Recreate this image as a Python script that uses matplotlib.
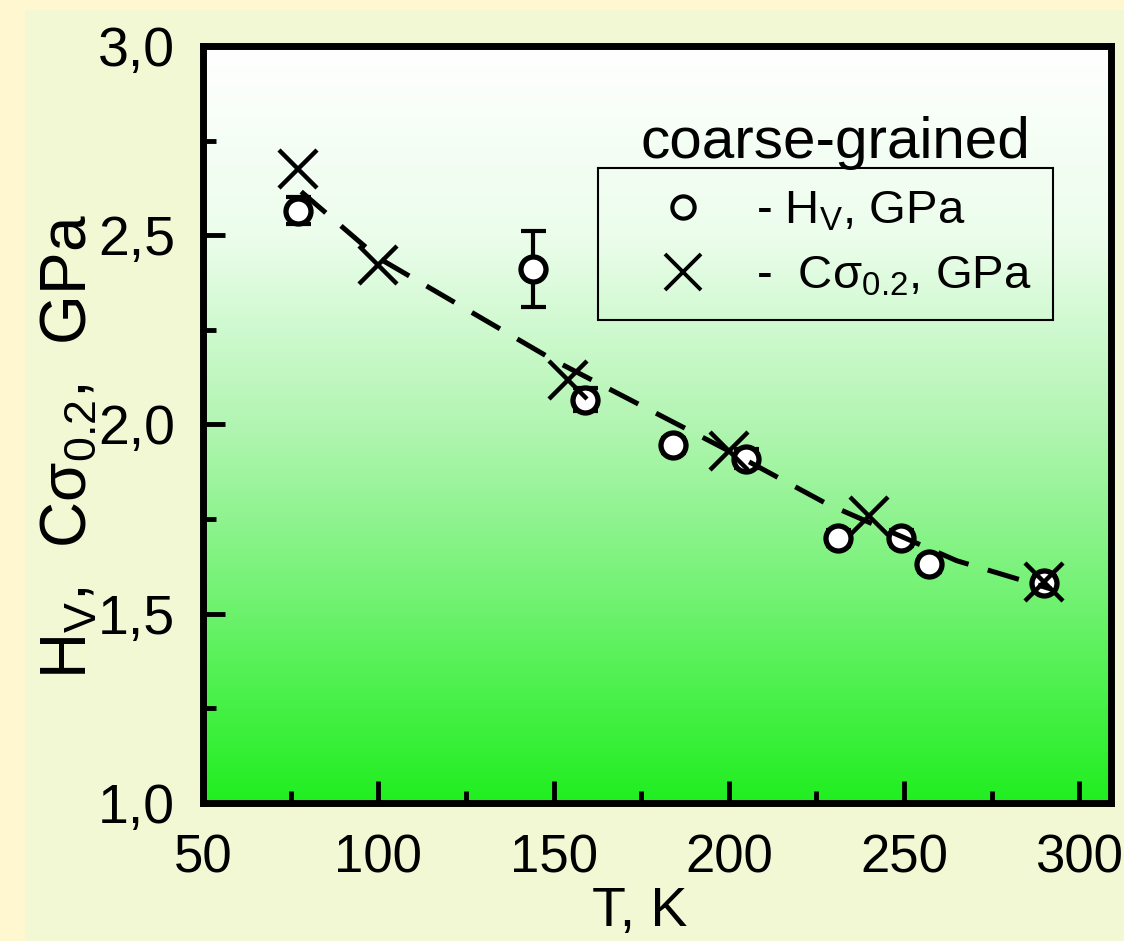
import matplotlib
matplotlib.use('Agg')
import matplotlib.pyplot as plt
import numpy as np
from matplotlib import font_manager
from matplotlib.colors import LinearSegmentedColormap
from matplotlib.patches import Rectangle
from matplotlib.ticker import FixedLocator

# ---- data ----
T_hv = [77, 144, 159, 184, 205, 231, 249, 257, 290]
hv = [2.565, 2.41, 2.065, 1.945, 1.91, 1.70, 1.70, 1.63, 1.58]
hv_err = [0.035, 0.10, 0.03, 0.02, 0.025, 0.02, 0.02, 0.02, 0.02]

T_sig = [77, 100, 154, 200, 240, 290]
sig = [2.674, 2.42, 2.118, 1.93, 1.758, 1.585]

T_fit = [78, 100, 150, 200, 228, 265, 292]
fit = [2.615, 2.44, 2.17, 1.93, 1.79, 1.64, 1.565]

x_ticks = [50, 100, 150, 200, 250, 300]
x_tick_labels = ['50', '100', '150', '200', '250', '300']
x_minor = [75, 125, 175, 225, 275]
y_ticks = [1.0, 1.5, 2.0, 2.5, 3.0]
y_tick_labels = ['1,0', '1,5', '2,0', '2,5', '3,0']
y_minor = [1.25, 1.75, 2.25, 2.75]

# ---- fonts ----
names = {f.name for f in font_manager.fontManager.ttflist}
base = 'Liberation Sans' if 'Liberation Sans' in names else 'DejaVu Sans'
narrow = 'Liberation Sans Narrow' if 'Liberation Sans Narrow' in names else base
plt.rcParams['font.family'] = [base, 'DejaVu Sans']
plt.rcParams['mathtext.default'] = 'regular'

fig = plt.figure(figsize=(11.24, 9.41), dpi=100, facecolor='#FFF7CF')
panel = Rectangle((25 / 1124, 0), 1, 1 - 10 / 941, transform=fig.transFigure,
                  facecolor='#F2F8D3', edgecolor='none', zorder=-10)
fig.add_artist(panel)

ax = fig.add_axes([0.1806, 0.1467, 0.8078, 0.8045])
ax.set_zorder(1)

# background gradient (white at top -> green at bottom)
cmap = LinearSegmentedColormap.from_list('g', [(0.0, '#FFFFFF'), (0.25, '#ECFDEC'),
                                               (0.5, '#B2F5B2'), (0.75, '#6CF26C'),
                                               (1.0, '#20EE20')])
grad = np.linspace(0, 1, 256).reshape(-1, 1)
ax.imshow(grad, cmap=cmap, aspect='auto', extent=[0, 1, 0, 1], transform=ax.transAxes,
          origin='upper', zorder=0)
ax.set_xlim(50, 309)
ax.set_ylim(1.0, 3.0)

# circles with error bars
ax.errorbar(T_hv, hv, yerr=hv_err, fmt='none', ecolor='black', elinewidth=3.0,
            capsize=9, capthick=3.0, zorder=3)
ax.plot(T_hv, hv, linestyle='none', marker='o', markersize=18, markerfacecolor='white',
        markeredgecolor='black', markeredgewidth=3.8, zorder=4)

# dashed fit line
line, = ax.plot(T_fit, fit, color='black', linewidth=3.6, zorder=5)
line.set_dashes([6.5, 4])
line.set_dash_capstyle('butt')

# crosses
ax.plot(T_sig, sig, linestyle='none', marker='x', markersize=27, markeredgecolor='black',
        markeredgewidth=3.2, zorder=6)

# spines & ticks
for s in ax.spines.values():
    s.set_linewidth(5)
    s.set_zorder(10)
ax.xaxis.set_major_locator(FixedLocator(x_ticks))
ax.xaxis.set_minor_locator(FixedLocator(x_minor))
ax.yaxis.set_major_locator(FixedLocator(y_ticks))
ax.yaxis.set_minor_locator(FixedLocator(y_minor))
ax.set_xticklabels(x_tick_labels, fontfamily=narrow, fontsize=38)
ax.set_yticklabels(y_tick_labels, fontsize=40)
ax.tick_params(which='major', direction='in', length=16, width=3.5, top=False, right=False)
ax.tick_params(which='minor', direction='in', length=9, width=3.5, top=False, right=False)
ax.tick_params(axis='x', which='major', pad=22)
ax.tick_params(axis='y', which='major', pad=20)

ax.set_xlabel('T, K', fontsize=40, fontfamily=narrow)
ax.xaxis.set_label_coords(0.481, -0.11)
ax.set_ylabel('H$_{V}$,  Cσ$_{0.2}$,  GPa', fontsize=46)
ax.yaxis.set_label_coords(-0.115, 0.47)

# legend
h1, = ax.plot([], [], linestyle='none', marker='o', markersize=16, markerfacecolor='none',
              markeredgecolor='black', markeredgewidth=3.0)
h2, = ax.plot([], [], linestyle='none', marker='x', markersize=26, markeredgecolor='black',
              markeredgewidth=2.8)
leg = ax.legend([h1, h2], ['- H$_{V}$, GPa', '-  Cσ$_{0.2}$, GPa'], loc='upper left',
                bbox_to_anchor=(0.435, 0.839), fontsize=34, frameon=True, fancybox=False,
                framealpha=1, borderpad=0.45, handletextpad=0.2, labelspacing=0.45,
                handlelength=2.7, borderaxespad=0)
fr = leg.get_frame()
fr.set_facecolor('none')
fr.set_edgecolor('black')
fr.set_linewidth(1.5)

ax.text(0.696, 0.872, 'coarse-grained', transform=ax.transAxes, fontsize=42,
        ha='center', va='center', zorder=11)

fig.savefig('out.png', dpi=100, facecolor=fig.get_facecolor())
